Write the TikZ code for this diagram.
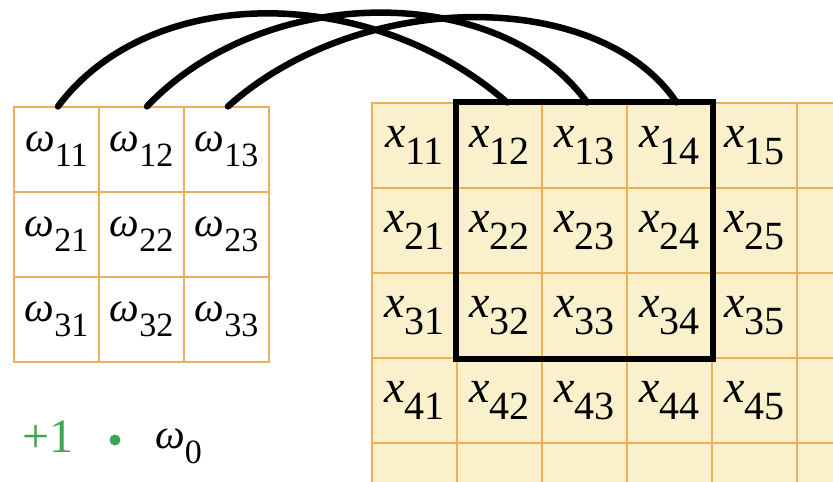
\documentclass[tikz,border=0pt]{standalone}
\usepackage{fontspec}
\setmainfont{Liberation Serif}
\usetikzlibrary{positioning}
\definecolor{gridline}{RGB}{236,176,92}
\definecolor{inputfill}{RGB}{250,241,204}
\definecolor{biasgreen}{RGB}{60,165,80}
\newcommand{\wsub}[1]{\textit{ω}\raisebox{-15pt}{\fontsize{34}{34}\selectfont #1}}
\newcommand{\xsub}[1]{\raisebox{4pt}{\textit{x}\raisebox{-17pt}{\fontsize{40}{40}\selectfont #1}}}

\begin{document}
\begin{tikzpicture}[x=1pt,y=-1pt,
  wcell/.style={draw=gridline, line width=1.2pt, fill=white, minimum size=85pt,
                inner sep=0pt, font=\fontsize{42}{42}\selectfont},
  xcell/.style={wcell, fill=inputfill, font=\fontsize{46}{46}\selectfont},
  link/.style={line width=6.5pt, line cap=round}]
  \useasboundingbox (0,0) rectangle (833,482);
  \clip (0,0) rectangle (833,482);
  % Kernel 3x3
  \foreach \i in {1,2,3}
    \foreach \j in {1,2,3}
      \node[wcell] (w\i\j) at ({56.5+85*(\j-1)},{149.5+85*(\i-1)}) {\wsub{\i\j}};
  % Entrada
  \foreach \i in {1,...,5}
    \foreach \j in {1,...,6}
      \node[xcell] (x\i\j) at ({414.5+85*(\j-1)},{145.5+85*(\i-1)})
        {\ifnum\i<5 \ifnum\j<6 \xsub{\i\j}\fi\fi};
  % Janela do kernel
  \draw[line width=6pt] (x12.north west) rectangle (x34.south east);
  % Ligacoes
  \draw[link] ([xshift=1.5pt]w11.north) .. controls (150,-17) and (370,-17) .. ([xshift=7.5pt]x12.north);
  \draw[link] ([xshift=5.5pt]w12.north) .. controls (265,-18) and (500,-18) .. ([xshift=2.5pt]x13.north);
  \draw[link] ([xshift=1.5pt]w13.north) .. controls (360,-12) and (600,-12) .. ([xshift=7pt]x14.north);
  % Bias
  \node[anchor=base west, text=biasgreen, inner sep=0pt, font=\fontsize{48}{48}\selectfont] (one) at (22,452) {+1};
  \node[circle, fill=biasgreen, minimum size=11pt, inner sep=0pt] (dot) at (115,440) {};
  \node[anchor=base west, inner sep=0pt, font=\fontsize{42}{42}\selectfont] (w0) at (155,448) {\wsub{0}};
\end{tikzpicture}
\end{document}
